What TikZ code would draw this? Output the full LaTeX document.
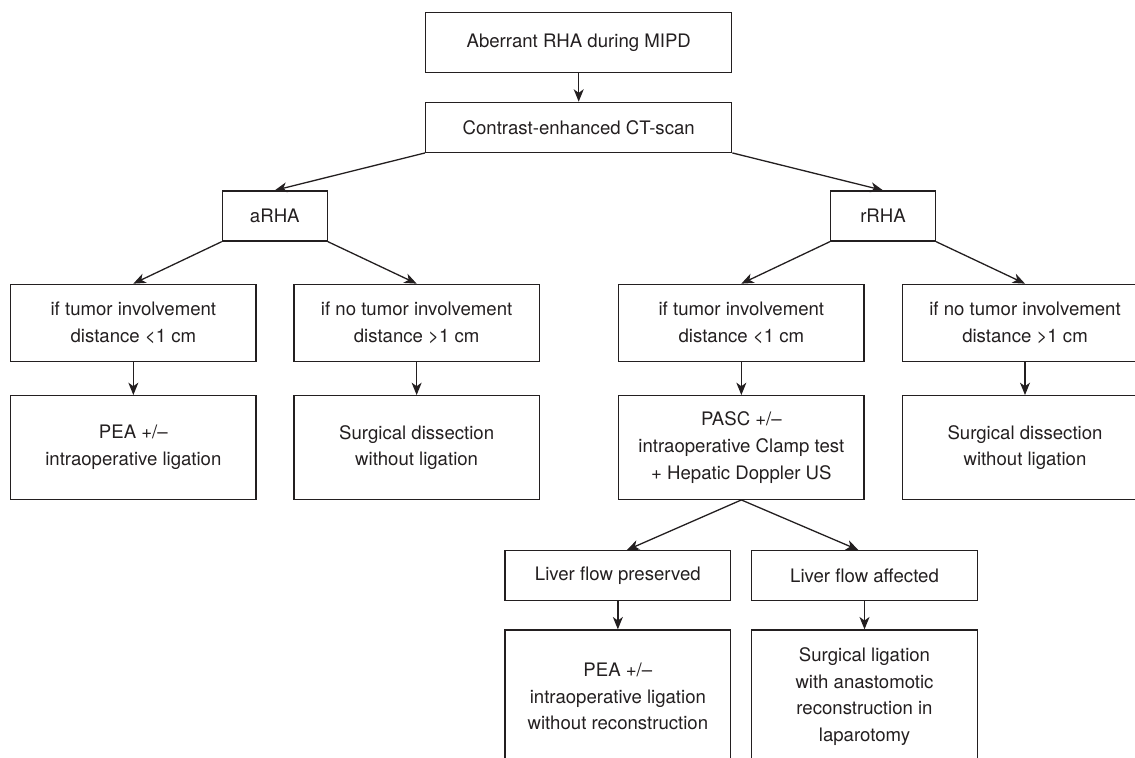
\documentclass[tikz,border=0pt]{standalone}
\usepackage{fontspec}
\setmainfont{TeX Gyre Heros}
\usetikzlibrary{arrows.meta}

\definecolor{inkgray}{HTML}{231F20}

\tikzset{
	box/.style={draw=inkgray, line width=0.65pt, align=center, inner sep=0pt,
		text=inkgray, font=\fontsize{9.3}{13.3}\selectfont},
	head/.style={box, minimum width=153pt},
	arm/.style={box, minimum width=52.4pt, minimum height=25pt},
	cond/.style={box, minimum width=122.65pt, minimum height=38.7pt},
	treat/.style={box, minimum width=122.65pt, minimum height=51.8pt},
	flow/.style={box, minimum width=112.85pt, minimum height=25pt},
	outcome/.style={box, minimum width=112.85pt, minimum height=66.5pt},
	arr/.style={draw=inkgray, line width=0.65pt, -{Stealth[length=6.2pt,width=5pt,inset=1.8pt]}}
}

\begin{document}
\begin{tikzpicture}[x=0.5pt,y=-0.5pt]
				\useasboundingbox (0,0) rectangle (1135,758);
				
				% top of the tree
				\node[head, minimum height=30pt] (top) at (578.7,42.3) {Aberrant RHA during MIPD};
				\node[head, minimum height=25pt] (ct) at (578.7,127.3) {Contrast-enhanced CT-scan};
				
				\node[arm] (arha) at (274.8,216) {aRHA};
				\node[arm] (rrha) at (883,216) {rRHA};
				
				% conditions
				\node[cond] (acl) at (133.35,323) {if tumor involvement\\distance <1 cm};
				\node[cond] (afar) at (416.65,323) {if no tumor involvement\\distance >1 cm};
				\node[cond] (rcl) at (741.35,323) {if tumor involvement\\distance <1 cm};
				\node[cond] (rfar) at (1025,323) {if no tumor involvement\\distance >1 cm};
				
				% treatment
				\node[treat] (pea) at (133.35,447.5) {PEA +/–\\intraoperative ligation};
				\node[treat] (adis) at (416.65,447.5) {Surgical dissection\\without ligation};
				\node[treat] (pasc) at (741.35,447.5) {PASC +/–\\intraoperative Clamp test\\+ Hepatic Doppler US};
				\node[treat] (rdis) at (1025,447.5) {Surgical dissection\\without ligation};
				
				% clamp test result
				\node[flow] (kept) at (617.85,575.7) {Liver flow preserved};
				\node[flow] (hit) at (864.5,575.7) {Liver flow affected};
				
				\node[outcome] (peanr) at (617.85,696.5) {PEA +/–\\intraoperative ligation\\without reconstruction};
				\node[outcome] (recon) at (864.5,696.5) {Surgical ligation\\with anastomotic\\reconstruction in\\laparotomy};
				
				\draw[arr] (top) -- (ct);
				\draw[arr] (ct.south west) -- (arha.north);
				\draw[arr] (ct.south east) -- (rrha.north);
				
				\foreach \p/\a/\b in {arha/acl/afar, rrha/rcl/rfar} {
					\draw[arr] (\p.south west) -- (\a.north);
					\draw[arr] (\p.south east) -- (\b.north);
				}
				
				\draw[arr] (pasc.south) -- ([xshift=4.5pt]kept.north);
				\draw[arr] (pasc.south) -- ([xshift=-3pt]hit.north);
				
				\foreach \a/\b in {acl/pea, afar/adis, rcl/pasc, rfar/rdis, kept/peanr, hit/recon}
					\draw[arr] (\a) -- (\b);
			\end{tikzpicture}
\end{document}
